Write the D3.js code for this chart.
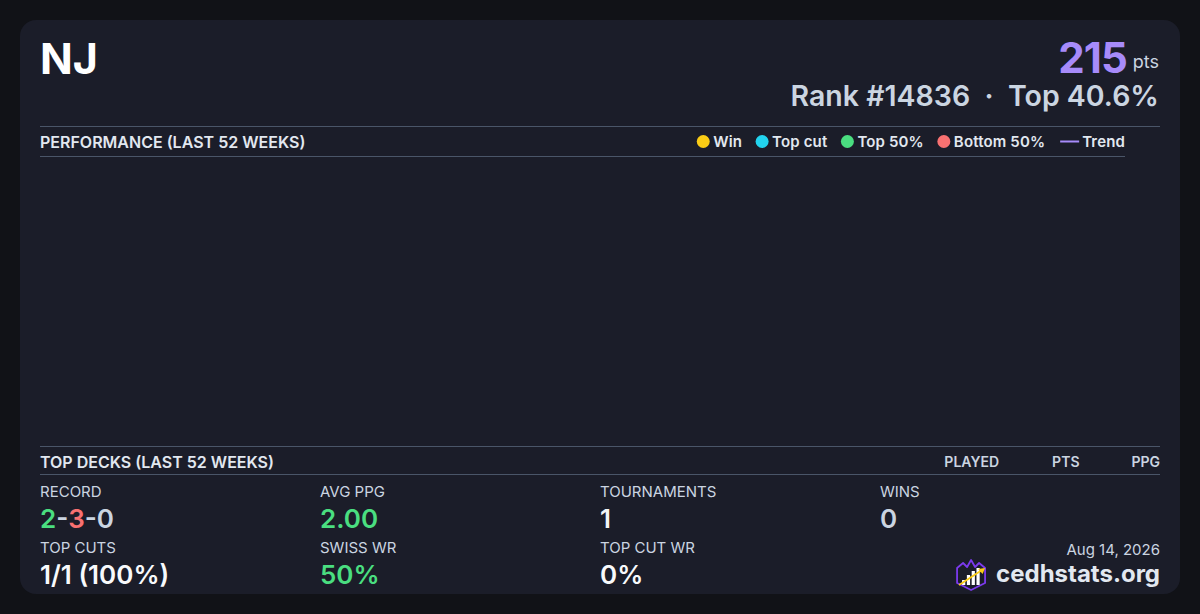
<!DOCTYPE html>
<html>
<head>
<meta charset="utf-8">
<script src="https://cdn.jsdelivr.net/npm/d3@7"></script>
<style>
  html, body { margin: 0; padding: 0; background: #111217; }
  svg { display: block; font-family: Inter, "Noto Sans", sans-serif; }
</style>
</head>
<body>
<div id="canvas"></div>
<script>
const W = 1200, H = 614;
const CARD = { X: 20, Y: 20, W: 1160, H: 574, R: 16 };
const PAD = 20;

// header
const playerName = 'NJ';
const points = 215;
const rank = 14836;
const topPct = '40.6%';

// legend
const legendLabels = ['Win', 'Top cut', 'Top 50%', 'Bottom 50%', 'Trend'];
const legendColors = ['#facc15', '#22d3ee', '#4ade80', '#f87171', '#a78bfa'];

// weekly results in the last 52 weeks (none plotted in this card)
const weekDates = [];
const weekPoints = [];

// top decks table
const deckColumns = ['PLAYED', 'PTS', 'PPG'];
const deckRows = [];

// stats grid
const statLabels = ['RECORD', 'AVG PPG', 'TOURNAMENTS', 'WINS', 'TOP CUTS', 'SWISS WR', 'TOP CUT WR'];
const statValues = ['2-3-0', '2.00', '1', '0', '1/1 (100%)', '50%', '0%'];
const statColors = [null, '#4ade80', '#f3f4f6', '#cbd5e1', '#f8fafc', '#4ade80', '#f8fafc'];
const recordParts = [2, 3, 0];
const recordColors = ['#4ade80', '#f87171', '#cbd5e1'];

const footerDate = 'Aug 14, 2026';
const siteName = 'cedhstats.org';

const LINE = '#4a5568';
const LEFT = CARD.X + PAD, RIGHT = CARD.X + CARD.W - PAD;

const svg = d3.select('#canvas').append('svg')
  .attr('width', W)
  .attr('height', H);

svg.append('rect')
  .attr('x', CARD.X).attr('y', CARD.Y)
  .attr('width', CARD.W).attr('height', CARD.H)
  .attr('rx', CARD.R)
  .attr('fill', '#1b1d29');

// header
svg.append('text')
  .attr('x', LEFT).attr('y', 74)
  .attr('fill', '#ffffff')
  .attr('font-size', 43).attr('font-weight', 700)
  .text(playerName);

const ptsLabel = svg.append('text')
  .attr('x', RIGHT - 1).attr('y', 68)
  .attr('text-anchor', 'end')
  .attr('fill', '#cbd5e1')
  .attr('font-size', 18)
  .text('pts');
const ptsW = ptsLabel.node().getComputedTextLength();

svg.append('text')
  .attr('x', RIGHT - ptsW - 7).attr('y', 73)
  .attr('text-anchor', 'end')
  .attr('fill', '#a78bfa')
  .attr('font-size', 42).attr('font-weight', 700)
  .attr('letter-spacing', -1)
  .text(points);

svg.append('text')
  .attr('x', RIGHT - 1).attr('y', 106)
  .attr('text-anchor', 'end')
  .attr('fill', '#cbd5e1')
  .attr('font-size', 28.5).attr('font-weight', 600)
  .attr('xml:space', 'preserve')
  .text(`Rank #${rank}  ·  Top ${topPct}`);

// performance section
svg.append('line')
  .attr('x1', LEFT).attr('x2', RIGHT)
  .attr('y1', 126.5).attr('y2', 126.5)
  .attr('stroke', LINE);

svg.append('text')
  .attr('x', LEFT).attr('y', 148)
  .attr('fill', '#e2e8f0')
  .attr('font-size', 16).attr('font-weight', 600)
  .text('PERFORMANCE (LAST 52 WEEKS)');

const chartRight = 1125;
const chart = { top: 157, bottom: 446 };

svg.append('line')
  .attr('x1', LEFT).attr('x2', chartRight)
  .attr('y1', 156.5).attr('y2', 156.5)
  .attr('stroke', LINE);

// legend, laid out right to left
const legend = svg.append('g');
let cursor = chartRight;
for (let i = legendLabels.length - 1; i >= 0; i--) {
  const item = legend.append('g');
  const t = item.append('text')
    .attr('y', 147)
    .attr('fill', '#e2e8f0')
    .attr('font-size', 15).attr('font-weight', 600)
    .attr('letter-spacing', 0.15)
    .text(legendLabels[i]);
  const tw = t.node().getComputedTextLength();
  t.attr('x', cursor - tw);
  if (i === legendLabels.length - 1) {
    item.append('line')
      .attr('x1', cursor - tw - 22).attr('x2', cursor - tw - 3)
      .attr('y1', 141.5).attr('y2', 141.5)
      .attr('stroke', legendColors[i]).attr('stroke-width', 2);
    cursor = cursor - tw - 22 - 15;
  } else {
    item.append('circle')
      .attr('cx', cursor - tw - 10).attr('cy', 141.5)
      .attr('r', 6.5)
      .attr('fill', legendColors[i]);
    cursor = cursor - tw - 10 - 20;
  }
}

// chart scales (no results in range to draw)
const x = d3.scaleTime()
  .domain([d3.timeWeek.offset(new Date(2026, 7, 14), -52), new Date(2026, 7, 14)])
  .range([LEFT, chartRight]);
const y = d3.scaleLinear()
  .domain([0, d3.max(weekPoints) || 1])
  .range([chart.bottom - 10, chart.top + 10]);

const plot = svg.append('g');
plot.selectAll('circle')
  .data(weekDates.map((d, i) => ({ d, p: weekPoints[i] })))
  .enter().append('circle')
  .attr('cx', d => x(d.d))
  .attr('cy', d => y(d.p))
  .attr('r', 5);

// top decks section
svg.append('line')
  .attr('x1', LEFT).attr('x2', RIGHT)
  .attr('y1', 446.5).attr('y2', 446.5)
  .attr('stroke', LINE);

svg.append('text')
  .attr('x', LEFT).attr('y', 468)
  .attr('fill', '#e2e8f0')
  .attr('font-size', 16).attr('font-weight', 600)
  .text('TOP DECKS (LAST 52 WEEKS)');

const colRight = d3.scalePoint()
  .domain(deckColumns)
  .range([999, RIGHT]);

svg.selectAll('text.col')
  .data(deckColumns)
  .enter().append('text')
  .attr('class', 'col')
  .attr('x', d => colRight(d))
  .attr('y', 467)
  .attr('text-anchor', 'end')
  .attr('fill', '#cbd5e1')
  .attr('font-size', 14).attr('font-weight', 600)
  .text(d => d);

svg.append('line')
  .attr('x1', LEFT).attr('x2', RIGHT)
  .attr('y1', 474.5).attr('y2', 474.5)
  .attr('stroke', LINE);

// stats grid
const colX = d3.scaleBand()
  .domain([0, 1, 2, 3])
  .range([LEFT, LEFT + 1120]);
const rowY = d3.scalePoint()
  .domain([0, 1])
  .range([497, 553]);

const stats = svg.selectAll('g.stat')
  .data(statLabels.map((label, i) => ({ label, value: statValues[i], color: statColors[i], i })))
  .enter().append('g')
  .attr('class', 'stat')
  .attr('transform', d => `translate(${colX(d.i % 4)}, ${rowY(Math.floor(d.i / 4))})`);

stats.append('text')
  .attr('fill', '#cbd5e1')
  .attr('font-size', 15)
  .text(d => d.label);

stats.append('text')
  .attr('y', 31)
  .attr('font-size', 26).attr('font-weight', 600)
  .attr('fill', d => d.color || '#ffffff')
  .each(function (d) {
    const t = d3.select(this);
    if (d.i === 0) {
      recordParts.forEach((p, k) => {
        if (k > 0) t.append('tspan').attr('fill', '#cbd5e1').text('-');
        t.append('tspan').attr('fill', recordColors[k]).text(p);
      });
    } else {
      t.text(d.value);
    }
  });

// footer
svg.append('text')
  .attr('x', RIGHT).attr('y', 555)
  .attr('text-anchor', 'end')
  .attr('fill', '#cbd5e1')
  .attr('font-size', 15)
  .text(footerDate);

const site = svg.append('text')
  .attr('x', RIGHT).attr('y', 582)
  .attr('text-anchor', 'end')
  .attr('fill', '#e2e8f0')
  .attr('font-size', 24).attr('font-weight', 700)
  .text(siteName);
const siteW = site.node().getComputedTextLength();

// logo
const logo = svg.append('g')
  .attr('transform', `translate(${RIGHT - siteW - 40}, 560)`);
logo.append('path')
  .attr('d', 'M1,8 L7,3 L11,7 L15,0 L19,7 L23,3 L29,8 L29,23 L15,30 L1,23 Z')
  .attr('fill', '#1b1d29')
  .attr('stroke', '#7c3aed').attr('stroke-width', 1.8)
  .attr('stroke-linejoin', 'round');
const barHeights = [5, 10, 14, 17];
logo.selectAll('rect.bar')
  .data(barHeights)
  .enter().append('rect')
  .attr('class', 'bar')
  .attr('x', (d, i) => 6 + i * 4.8)
  .attr('y', d => 25 - d)
  .attr('width', 3.2)
  .attr('height', d => d)
  .attr('fill', '#ffffff');
logo.append('line')
  .attr('x1', 3).attr('y1', 25).attr('x2', 26).attr('y2', 10)
  .attr('stroke', '#facc15').attr('stroke-width', 1.8);
logo.append('path')
  .attr('d', 'M29,8 L22,9 L26.5,14 Z')
  .attr('fill', '#facc15');
</script>
</body>
</html>
